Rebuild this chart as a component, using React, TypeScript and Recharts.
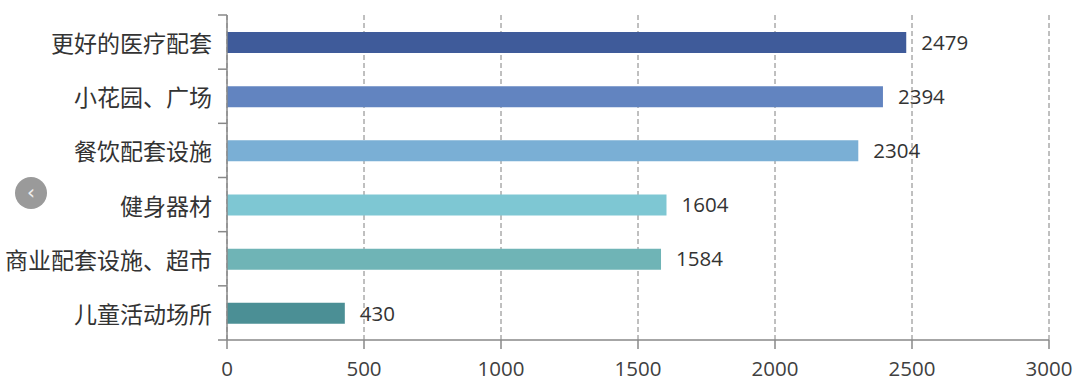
import React from 'react';
import { BarChart, Bar, XAxis, YAxis, CartesianGrid, Cell, LabelList } from 'recharts';

const categories = ['更好的医疗配套', '小花园、广场', '餐饮配套设施', '健身器材', '商业配套设施、超市', '儿童活动场所'];
const values = [2479, 2394, 2304, 1604, 1584, 430];
const colors = ['#3f5b9a', '#6284c0', '#7aafd5', '#7ec7d3', '#6fb4b6', '#4b8f95'];
const xTicks = [0, 500, 1000, 1500, 2000, 2500, 3000];

const data = categories.map((name, i) => ({ name, value: values[i] }));

const TICK_MARGIN = 15;
const TICK_LEN = 9;

function CategoryTick(props: any) {
  const { x, y, payload, index, visibleTicksCount } = props;
  const half = payload && payload.offset ? payload.offset : 27;
  const axisX = x + TICK_MARGIN;
  const last = index === (visibleTicksCount ?? categories.length) - 1;
  return (
    <g>
      <line x1={axisX - TICK_LEN} x2={axisX} y1={y - half} y2={y - half} stroke="#888" strokeWidth={1.5} />
      {last && <line x1={axisX - TICK_LEN} x2={axisX} y1={y + half} y2={y + half} stroke="#888" strokeWidth={1.5} />}
      <text
        x={x}
        y={y}
        textAnchor="end"
        dominantBaseline="central"
        fill="#333"
        fontSize={23}
        fontFamily="Noto Sans CJK SC"
      >
        {payload.value}
      </text>
    </g>
  );
}

export default function App() {
  return (
    <div style={{ position: 'absolute', top: 0, left: 0, width: 1080, height: 392, background: '#fff' }}>
      <BarChart
        width={1080}
        height={392}
        data={data}
        layout="vertical"
        margin={{ top: 15, right: 31, bottom: 0, left: 0 }}
        barSize={21}
      >
        <CartesianGrid horizontal={false} vertical={true} stroke="#808080" strokeDasharray="5 3" />
        <XAxis
          type="number"
          domain={[0, 3000]}
          ticks={xTicks}
          height={52}
          axisLine={{ stroke: '#888', strokeWidth: 1.5 }}
          tickLine={{ stroke: '#888', strokeWidth: 1.5 }}
          tickSize={9}
          tick={{ fill: '#404040', fontSize: 20.5, fontFamily: 'Open Sans' }}
          tickMargin={12}
        />
        <YAxis
          type="category"
          dataKey="name"
          width={227}
          axisLine={{ stroke: '#888', strokeWidth: 1.5 }}
          tickLine={false}
          tickSize={0}
          tickMargin={TICK_MARGIN}
          tick={<CategoryTick />}
        />
        <Bar dataKey="value" isAnimationActive={false}>
          {data.map((d, i) => (
            <Cell key={d.name} fill={colors[i]} />
          ))}
          <LabelList
            dataKey="value"
            position="right"
            offset={15}
            style={{ fill: '#333', fontSize: 20.5, fontFamily: 'Open Sans' }}
          />
        </Bar>
      </BarChart>
      <div
        style={{
          position: 'absolute',
          left: 15,
          top: 177,
          width: 32,
          height: 32,
          borderRadius: 16,
          background: '#9a9a9a',
          color: '#eee',
          fontSize: 20,
          lineHeight: '30px',
          textAlign: 'center',
          fontFamily: 'DejaVu Sans',
        }}
      >
        ‹
      </div>
    </div>
  );
}
